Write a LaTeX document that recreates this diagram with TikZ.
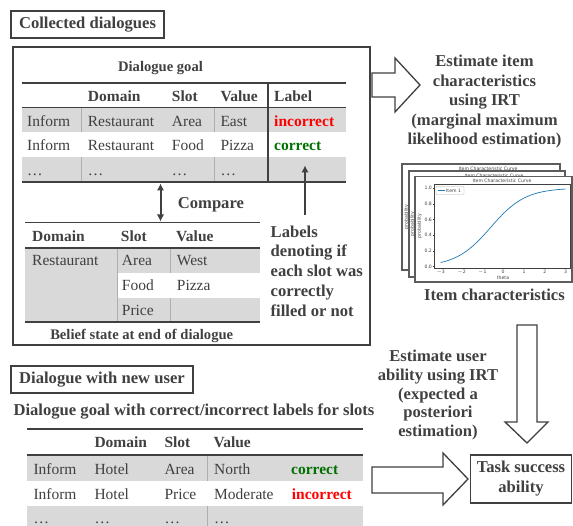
\documentclass[tikz,border=0pt]{standalone}
\usepackage{fontspec}
\setmainfont{Liberation Serif}
\newfontfamily\plotfont{DejaVu Sans}
\usetikzlibrary{arrows.meta}
\definecolor{dg}{RGB}{64,64,64}
\definecolor{cellgray}{RGB}{217,217,217}
\definecolor{sepgray}{RGB}{175,175,175}
\definecolor{okgreen}{RGB}{0,112,0}
\definecolor{badred}{RGB}{255,0,0}
\definecolor{mplblue}{RGB}{31,119,180}
\begin{document}
\begin{tikzpicture}[x=1pt,y=-1pt,
  big/.style={font=\fontsize{16.6}{19.7}\selectfont\bfseries, text=dg, inner sep=0pt},
  capt/.style={font=\fontsize{14.6}{17}\selectfont\bfseries, text=dg, inner sep=0pt},
  cell/.style={font=\fontsize{15.5}{18}\selectfont, text=dg, anchor=base west, inner sep=0pt},
  hcell/.style={cell, font=\fontsize{15.5}{18}\selectfont\bfseries},
  lab/.style={cell, font=\fontsize{15.5}{18}\selectfont\bfseries},
  titlebox/.style={draw=dg, line width=1.5pt, fill=white, inner sep=0pt},
  frameline/.style={draw=dg, line width=1.5pt},
  blockarrow/.style={draw=dg, line width=1.3pt, fill=white, line join=miter},
  rule/.style={draw=dg, line width=1.1pt},
  sep/.style={draw=sepgray, line width=0.7pt},
  conn/.style={draw=dg, line width=2pt},
  tiny/.style={font=\plotfont\fontsize{4.6}{5}\selectfont, text=dg, inner sep=0.4pt},
  plotframe/.style={draw=dg!85, line width=1.4pt, fill=white}
]
\useasboundingbox (0,0) rectangle (573,526);

% ---------------- Collected dialogues ----------------
\node[titlebox, big, minimum width=153pt, minimum height=27pt] (colltitle) at (87.5,24.5) {Collected dialogues};
\draw[frameline] (13,47) rectangle (370,345);

\node[capt, anchor=base] (goalcap) at (160.5,71.7) {Dialogue goal};

% upper table
\fill[cellgray] (22,107.5) rectangle (346,132.5);
\fill[cellgray] (22,157) rectangle (346,182);
\draw[sep] (81,107.5) -- (81,132.5) (214,107.5) -- (214,132.5);
\draw[sep] (81,157) -- (81,182) (214,157) -- (214,182);
\draw[rule] (22,83) -- (346,83);
\draw[rule] (22,107.5) -- (346,107.5);
\draw[rule] (22,182) -- (346,182);
\draw[rule] (268,83) -- (268,182);

\node[hcell] (gh1) at (87.7,101.5) {Domain};
\node[hcell] (gh2) at (171.7,101.5) {Slot};
\node[hcell] (gh3) at (220.3,101.5) {Value};
\node[hcell] (gh4) at (274,101.5) {Label};

\node[cell] (g11) at (27,126.5) {Inform};
\node[cell] (g12) at (87.7,126.5) {Restaurant};
\node[cell] (g13) at (171.7,126.5) {Area};
\node[cell] (g14) at (220.3,126.5) {East};
\node[lab, text=badred] (g15) at (274,126.5) {incorrect};

\node[cell] (g21) at (27,151) {Inform};
\node[cell] (g22) at (87.7,151) {Restaurant};
\node[cell] (g23) at (171.7,151) {Food};
\node[cell] (g24) at (220.3,151) {Pizza};
\node[lab, text=okgreen] (g25) at (274,151) {correct};

\node[cell] (g31) at (27,175.5) {\ldots};
\node[cell] (g32) at (87.7,175.5) {\ldots};
\node[cell] (g33) at (171.7,175.5) {\ldots};
\node[cell] (g34) at (220.3,175.5) {\ldots};

% compare arrow
\coordinate (cmpA) at (160.5,183.5);
\coordinate (cmpB) at (160.5,221.5);
\draw[conn, {Latex[length=7pt,width=7.5pt]}-{Latex[length=7pt,width=7.5pt]}] (cmpA) -- (cmpB);
\node[big, anchor=base west] (compare) at (177.7,209) {Compare};

% labels arrow + text
\coordinate (upA) at (305,215);
\coordinate (upB) at (305,165.5);
\draw[conn, -{Latex[length=7pt,width=7.5pt]}] (upA) -- (upB);
\node[big, align=left, anchor=north west, font=\fontsize{16.6}{19.8}\selectfont\bfseries] (labtext) at (270.5,225.4)
  {Labels\\denoting if\\each slot was\\correctly\\filled or not};

% belief table
\fill[cellgray] (25,248) rectangle (117,322);
\fill[cellgray] (117,248) rectangle (260,273);
\fill[cellgray] (117,298) rectangle (260,322);
\draw[sep] (117,248) -- (117,322);
\draw[sep] (170.5,248) -- (170.5,273) (170.5,298) -- (170.5,322);
\draw[rule] (25,222.7) -- (260,222.7);
\draw[rule] (25,248) -- (260,248);
\draw[rule] (25,322) -- (260,322);

\node[hcell] (bh1) at (32,241.3) {Domain};
\node[hcell] (bh2) at (120.7,241.3) {Slot};
\node[hcell] (bh3) at (176,241.3) {Value};
\node[cell] (b11) at (32,266) {Restaurant};
\node[cell] (b12) at (121.7,266) {Area};
\node[cell] (b13) at (176.7,266) {West};
\node[cell] (b22) at (121.7,291) {Food};
\node[cell] (b23) at (176.7,291) {Pizza};
\node[cell] (b32) at (121.7,316) {Price};

\node[capt, anchor=base] (beliefcap) at (141.7,340) {Belief state at end of dialogue};

% ---------------- right side ----------------
\draw[blockarrow] (372,73) -- (395,73) -- (395,58) -- (420,85) -- (395,112) -- (395,97) -- (372,97) -- cycle;
\node[big, align=center, anchor=north, font=\fontsize{16.6}{19.5}\selectfont\bfseries] (estitem) at (484.5,55)
  {Estimate item\\characteristics\\using IRT\\(marginal maximum\\likelihood estimation)};

% item characteristic curve images
\draw[plotframe] (402,164) rectangle (560,270);
\node[tiny] (t1) at (488,169) {Item Characteristic Curve};
\node[tiny, rotate=90] (yl1) at (406.5,217) {probability};
\draw[plotframe] (409,171) rectangle (565,277);
\node[tiny] (t2) at (494,175.5) {Item Characteristic Curve};
\node[tiny, rotate=90] (yl2) at (412.5,224) {probability};
\draw[plotframe] (415,176.5) rectangle (572,282);
\node[tiny] (t3) at (502,180.5) {Item Characteristic Curve};
\node[tiny, rotate=90] (yl3) at (419.5,226) {probability};
\draw[dg, line width=0.5pt] (434,184) rectangle (570.5,268);
\foreach \p/\t in {0/0.0,0.2/0.2,0.4/0.4,0.6/0.6,0.8/0.8,1/1.0}{
  \draw[dg, line width=0.4pt] (432.5,{266.7-78.7*\p}) -- (434,{266.7-78.7*\p});
  \node[tiny, anchor=east] at (432.5,{266.7-78.7*\p}) {\t};
}
\foreach \th/\t in {-3/$-$3,-2/$-$2,-1/$-$1,0/0,1/1,2/2,3/3}{
  \draw[dg, line width=0.4pt] ({503.2+20.83*\th},268) -- ({503.2+20.83*\th},269.5);
  \node[tiny, anchor=north] at ({503.2+20.83*\th},269.5) {\t};
}
\node[tiny] (xl3) at (503,277.5) {theta};
\draw[mplblue, line width=0.7pt, smooth] plot[domain=-3:3, samples=40] (\x*20.83+503.2, {266.7-78.7/(1+exp(-1.2*(\x+0.6)))});
\draw[sepgray, line width=0.3pt, rounded corners=0.8pt] (436,186.5) rectangle (464,194.5);
\draw[mplblue, line width=0.6pt] (437.5,190.5) -- (444.5,190.5);
\node[tiny, anchor=west] (leg) at (445.5,190.5) {Item 1};

\node[big, anchor=base] (itemchar) at (494.5,300.7) {Item characteristics};

\draw[blockarrow] (517,325) -- (537,325) -- (537,422) -- (548,422) -- (527,443) -- (505,422) -- (517,422) -- cycle;
\node[big, align=center, anchor=north, font=\fontsize{16.6}{18.7}\selectfont\bfseries] (estuser) at (438,350)
  {Estimate user\\ability using IRT\\(expected a\\posteriori\\estimation)};

% ---------------- Dialogue with new user ----------------
\node[titlebox, big, minimum width=182pt, minimum height=27pt] (newtitle) at (102,379.5) {Dialogue with new user};
\node[big, anchor=base] (newcap) at (194,416) {Dialogue goal with correct/incorrect labels for slots};

\fill[cellgray] (27,455) rectangle (363,481);
\fill[cellgray] (27,506) rectangle (363,531);
\draw[sep] (207,455) -- (207,481) (207,506) -- (207,531);
\draw[rule] (27,429) -- (363,429);
\draw[rule] (27,455) -- (363,455);

\node[hcell] (nh1) at (94.3,447.7) {Domain};
\node[hcell] (nh2) at (164.3,447.7) {Slot};
\node[hcell] (nh3) at (213.3,447.7) {Value};
\node[cell] (n11) at (33.3,474) {Inform};
\node[cell] (n12) at (94.3,474) {Hotel};
\node[cell] (n13) at (164.3,474) {Area};
\node[cell] (n14) at (214,474) {North};
\node[lab, text=okgreen] (n15) at (291,474) {correct};
\node[cell] (n21) at (33.3,499.3) {Inform};
\node[cell] (n22) at (94.3,499.3) {Hotel};
\node[cell] (n23) at (164.3,499.3) {Price};
\node[cell] (n24) at (214,499.3) {Moderate};
\node[lab, text=badred] (n25) at (291.7,499.3) {incorrect};
\node[cell] (n31) at (33.3,523) {\ldots};
\node[cell] (n32) at (94.3,523) {\ldots};
\node[cell] (n33) at (164.3,523) {\ldots};
\node[cell] (n34) at (214,523) {\ldots};

\draw[blockarrow] (372,467) -- (443,467) -- (443,453) -- (468,479) -- (443,505) -- (443,493) -- (372,493) -- cycle;
\node[titlebox, big, align=center, minimum width=101pt, minimum height=48pt, font=\fontsize{16.6}{20}\selectfont\bfseries] (task) at (521,479) {Task success\\ability};
\end{tikzpicture}
\end{document}
